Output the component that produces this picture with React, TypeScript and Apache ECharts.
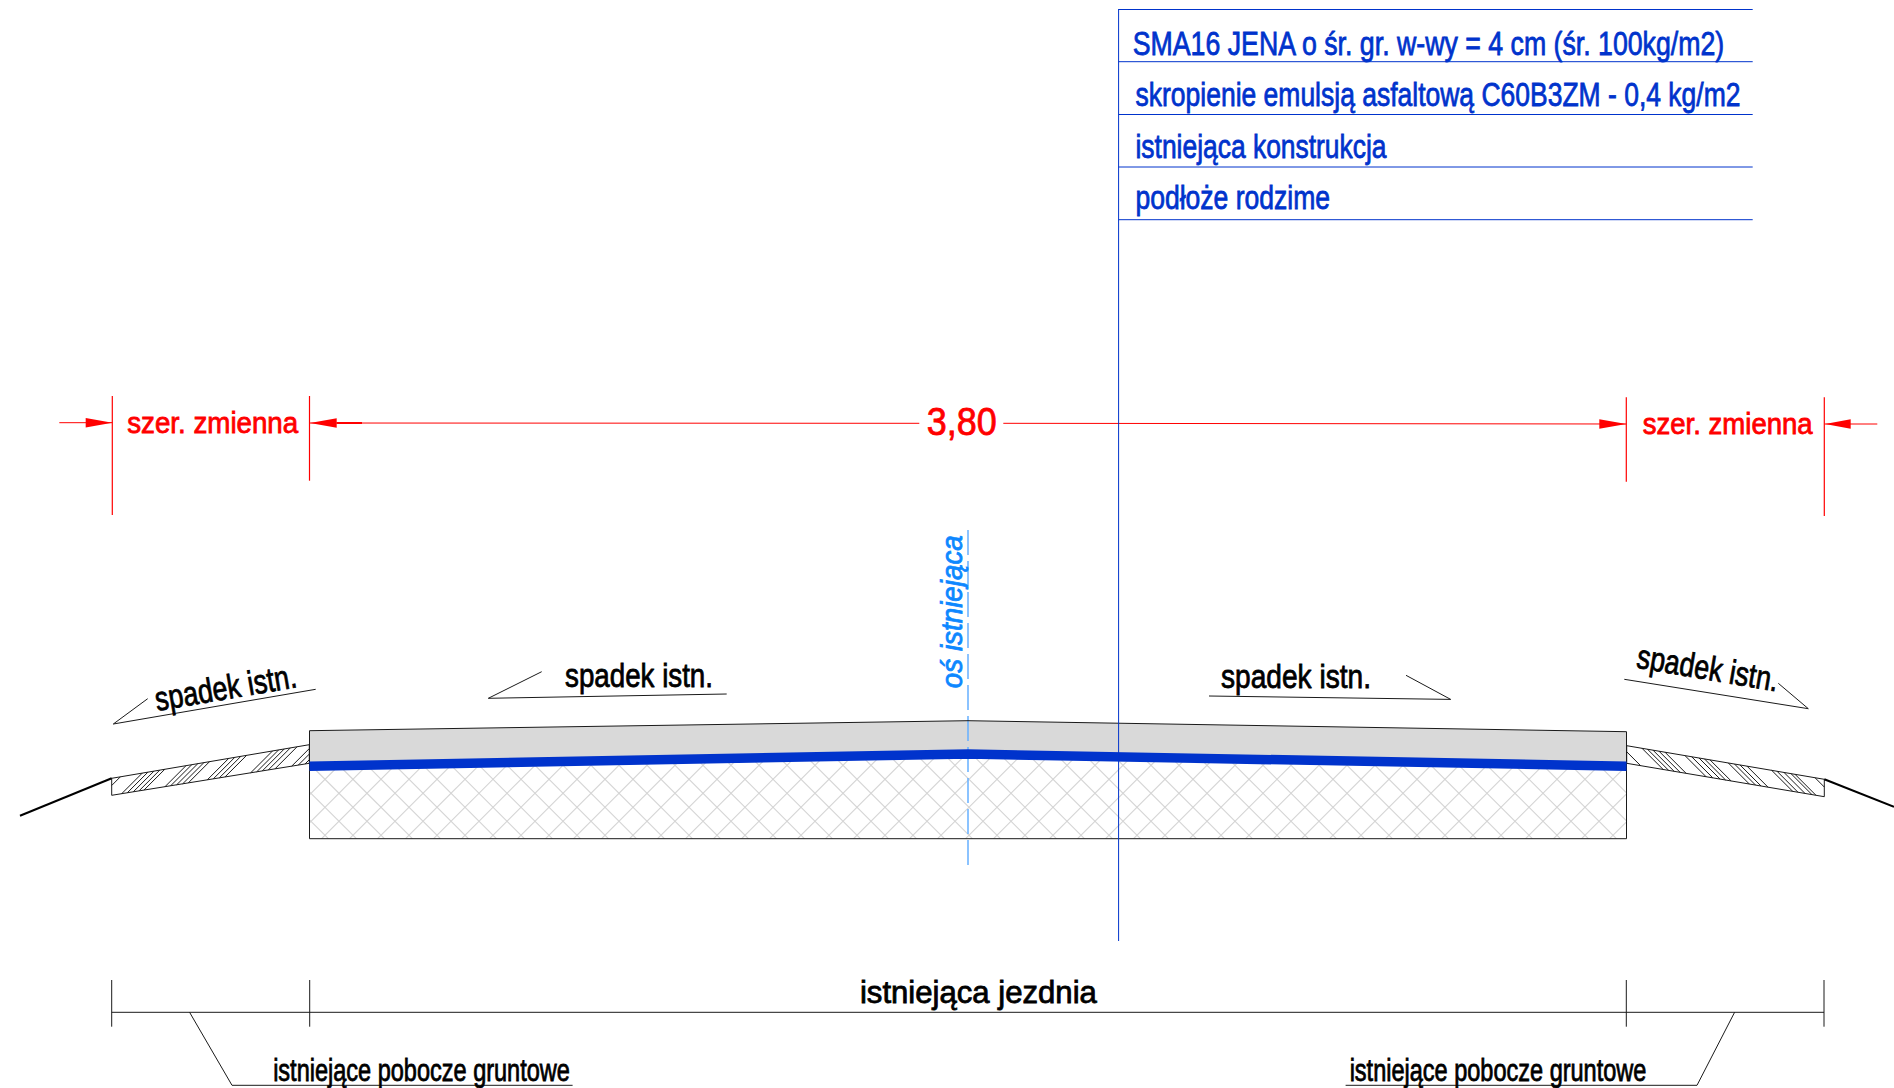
import React, { useEffect, useRef } from "react";
import * as echarts from "echarts";

type Pt = number[];

// ---- Cross-section geometry, in drawing units ----
const roadTopProfile: Pt[] = [[309.5, 730.7], [968, 720.7], [1626.5, 731.7]];
const sealLayerProfile: Pt[] = [[309.5, 766.3], [968, 754], [1626.5, 766.2]];
const roadBaseCorners: Pt[] = [[309.5, 730.7], [309.5, 838.7], [1626.5, 838.7], [1626.5, 731.7]];
const substrateBottom: Pt[] = [[309.5, 838.7], [1626.5, 838.7]];

const leftShoulder: Pt[] = [[111.7, 778.3], [309.3, 744.7], [309.3, 763.3], [111.7, 795.3]];
const rightShoulder: Pt[] = [[1626.7, 745.7], [1824.3, 779.3], [1824.3, 796.7], [1626.7, 763.3]];
const leftEmbankment: Pt[] = [[20, 815.7], [111.7, 778.3]];
const rightEmbankment: Pt[] = [[1824.3, 779.3], [1894, 806.7]];

const leftHatchStarts = [100, 121.7, 127.3, 133.3, 139, 144, 165, 170.7, 176.7, 182.7, 188.3, 207.3, 213.3, 219.3, 225, 250.7, 256.7, 262.3, 268.3, 275, 291.7, 298.3, 305];
const rightHatchStarts = [1619.4, 1642, 1647.5, 1653, 1659, 1665, 1685, 1691.7, 1699, 1704.5, 1710, 1728.3, 1734.5, 1740, 1747, 1771.7, 1777, 1784, 1791, 1795, 1815];

// ---- Dimension lines (red) ----
const dimLeftStub: Pt[] = [[59.3, 422.7], [112.3, 422.7]];
const dimMainLeft: Pt[] = [[309.5, 423], [919.3, 423.3]];
const dimMainLeftHeavy: Pt[] = [[336.7, 423], [362, 423]];
const dimMainRight: Pt[] = [[1003.3, 423.3], [1626.3, 424]];
const dimRightStub: Pt[] = [[1824.5, 424], [1877.3, 424]];
const dimTicks: Pt[][] = [
  [[112.3, 396], [112.3, 515]],
  [[309.5, 396], [309.5, 480.7]],
  [[1626.3, 397.3], [1626.3, 481.7]],
  [[1824.3, 397.3], [1824.3, 516]],
];
const dimArrows: Pt[][] = [
  [[112.3, 422.7], [85.7, 418], [85.7, 427.4]],
  [[310, 423], [336.7, 418.3], [336.7, 427.7]],
  [[1626.3, 424], [1599.3, 419.2], [1599.3, 428.8]],
  [[1825, 424], [1850.7, 419.2], [1850.7, 428.8]],
];

// ---- Layer table and axis (blue) ----
const tableVertical: Pt[] = [[1118.6, 9], [1118.6, 941]];
const tableRuleY = [9.5, 61.7, 114.5, 167, 219.7];
const tableRuleX = [1118.6, 1752.7];
const existingAxis: Pt[] = [[968, 530], [968, 866.7]];

// ---- Slope leaders and bottom annotations (black) ----
const leaders: Pt[][] = [
  [[147.7, 698.7], [113.3, 724], [315.7, 689.3]],
  [[541.7, 671.7], [488.3, 698.3], [726.7, 694]],
  [[1209, 696], [1450.7, 699.4], [1406, 675.3]],
  [[1624.3, 679.3], [1808.3, 708.7], [1778.3, 683.3]],
  [[189.6, 1012.3], [232, 1085.3], [572.6, 1085.3]],
  [[1734.6, 1012.3], [1697, 1085.3], [1345.6, 1085.3]],
];
const bottomDimension: Pt[] = [[111.7, 1012.3], [1824, 1012.3]];
const bottomTicksX = [111.7, 309.7, 1626.3, 1824];
const bottomTickY = [980, 1026.7];

// ---- Labels ----
const tableLabels = [
  "SMA16 JENA o śr. gr. w-wy = 4 cm (śr. 100kg/m2)",
  "skropienie emulsją asfaltową C60B3ZM - 0,4 kg/m2",
  "istniejąca konstrukcja",
  "podłoże rodzime",
];
const widthLabel = "szer. zmienna";
const dimensionLabel = "3,80";
const slopeLabel = "spadek istn.";
const axisLabel = "oś istniejąca";
const carriagewayLabel = "istniejąca jezdnia";
const shoulderLabel = "istniejące pobocze gruntowe";

const BLUE = "#0033cc";
const RED = "#ff0000";
const INK = "#1a1a1a";
const SKY = "#66b0ff";
const GREY = "#d9d9d9";
const HATCH_GREY = "#d4d4d4";
const PI = Math.PI;

function lineSeries(points: Pt[], color: string, width: number, z: number, extra: any = {}) {
  return {
    type: "line",
    data: points,
    symbol: "none",
    silent: true,
    clip: false,
    z,
    lineStyle: { color, width, cap: "butt", join: "miter", ...extra },
  };
}

function polygonSeries(pointsList: Pt[][], fill: string, stroke: string | null, width: number, z: number) {
  return {
    type: "custom",
    silent: true,
    clip: false,
    z,
    data: [[0, 0]],
    renderItem: (_p: any, api: any) => ({
      type: "group",
      children: pointsList.map((pts) => ({
        type: "polygon",
        shape: { points: pts.map((q) => api.coord(q)) },
        style: { fill, stroke: stroke || "none", lineWidth: width },
      })),
    }),
  };
}

function clipToConvex(p: Pt, d: Pt, poly: Pt[]): Pt[] | null {
  const ts: number[] = [];
  for (let i = 0; i < poly.length; i++) {
    const a = poly[i];
    const b = poly[(i + 1) % poly.length];
    const ex = b[0] - a[0];
    const ey = b[1] - a[1];
    const den = d[0] * ey - d[1] * ex;
    if (Math.abs(den) < 1e-9) continue;
    const t = ((a[0] - p[0]) * ey - (a[1] - p[1]) * ex) / den;
    const s = ((a[0] - p[0]) * d[1] - (a[1] - p[1]) * d[0]) / den;
    if (s >= -1e-9 && s <= 1 + 1e-9) ts.push(t);
  }
  if (ts.length < 2) return null;
  const t0 = Math.min(...ts);
  const t1 = Math.max(...ts);
  if (t1 - t0 < 1e-6) return null;
  return [[p[0] + d[0] * t0, p[1] + d[1] * t0], [p[0] + d[0] * t1, p[1] + d[1] * t1]];
}

function segmentsSeries(segments: Pt[][], color: string, width: number, z: number) {
  return {
    type: "custom",
    silent: true,
    clip: false,
    z,
    data: [[0, 0]],
    renderItem: (_p: any, api: any) => ({
      type: "group",
      children: segments.map((seg) => {
        const a = api.coord(seg[0]);
        const b = api.coord(seg[1]);
        return {
          type: "line",
          shape: { x1: a[0], y1: a[1], x2: b[0], y2: b[1] },
          style: { stroke: color, lineWidth: width },
        };
      }),
    }),
  };
}

function onEdge(a: Pt, b: Pt, x: number): Pt {
  return [x, a[1] + ((b[1] - a[1]) * (x - a[0])) / (b[0] - a[0])];
}

function shoulderHatch(starts: number[], poly: Pt[], ea: Pt, eb: Pt, dir: Pt): Pt[][] {
  const out: Pt[][] = [];
  starts.forEach((x) => {
    const seg = clipToConvex(onEdge(ea, eb, x), dir, poly);
    if (seg) out.push(seg);
  });
  return out;
}

const substratePolygon: Pt[] = [...sealLayerProfile, ...[...substrateBottom].reverse()];

function crossHatch(poly: Pt[], period: number, sumPhase: number, diffPhase: number): Pt[][] {
  const out: Pt[][] = [];
  for (let k = -60; k < 100; k++) {
    const a = clipToConvex([sumPhase + k * period, 0], [1, -1], poly);
    if (a) out.push(a);
    const b = clipToConvex([diffPhase + k * period, 0], [1, 1], poly);
    if (b) out.push(b);
  }
  return out;
}

function fit(text: string, font: number, width: number, italic = false) {
  const ctx = document.createElement("canvas").getContext("2d")!;
  ctx.font = `${italic ? "italic " : ""}${font}px "Liberation Sans"`;
  return width / ctx.measureText(text).width;
}

function label(text: string, x: number, y: number, font: number, width: number, fill: string, rotation = 0, italic = false) {
  return {
    type: "text",
    x,
    y,
    rotation,
    scaleX: fit(text, font, width, italic),
    silent: true,
    z: 20,
    style: {
      text,
      fill,
      stroke: fill,
      lineWidth: 0.8,
      font: `${italic ? "italic " : ""}${font}px "Liberation Sans"`,
      align: "center",
      verticalAlign: "middle",
    },
  };
}

export default function App() {
  const ref = useRef<HTMLDivElement>(null);
  useEffect(() => {
    document.body.style.margin = "0";
    document.body.style.overflow = "hidden";
    const chart = echarts.init(ref.current!, undefined, { renderer: "svg" });

    const roadFill: Pt[] = [...roadTopProfile, ...[...sealLayerProfile].reverse()];
    const series: any[] = [
      segmentsSeries(crossHatch(substratePolygon, 28, 1104.3, -454.3), HATCH_GREY, 1.1, 1),
      polygonSeries([roadFill], GREY, null, 0, 2),
      lineSeries(existingAxis, SKY, 1.5, 3, { type: [25, 6] }),
      lineSeries(roadBaseCorners, INK, 1, 4),
      lineSeries(roadTopProfile, INK, 1, 4),
      lineSeries(sealLayerProfile, BLUE, 9.5, 5),
      polygonSeries([leftShoulder, rightShoulder], "#ffffff", INK, 1, 3),
      segmentsSeries(shoulderHatch(leftHatchStarts, leftShoulder, leftShoulder[3], leftShoulder[2], [1, -1]), INK, 1, 4),
      segmentsSeries(shoulderHatch(rightHatchStarts, rightShoulder, rightShoulder[0], rightShoulder[1], [1, 1]), INK, 1, 4),
      lineSeries(leftEmbankment, "#000000", 2, 4),
      lineSeries(rightEmbankment, "#000000", 2, 4),
      lineSeries(dimLeftStub, RED, 1, 6),
      lineSeries(dimMainLeft, RED, 1, 6),
      lineSeries(dimMainLeftHeavy, RED, 2, 6),
      lineSeries(dimMainRight, RED, 1, 6),
      lineSeries(dimRightStub, RED, 1, 6),
      ...dimTicks.map((t) => lineSeries(t, RED, 1.2, 6)),
      polygonSeries(dimArrows, RED, null, 0, 6),
      lineSeries(tableVertical, BLUE, 1, 7),
      ...tableRuleY.map((y) => lineSeries(tableRuleX.map((x) => [x, y]), BLUE, 1, 7)),
      ...leaders.map((l) => lineSeries(l, INK, 1, 6)),
      lineSeries(bottomDimension, INK, 1, 6),
      ...bottomTicksX.map((x) => lineSeries(bottomTickY.map((y) => [x, y]), INK, 1, 6)),
    ];

    const toRad = PI / 180;
    const graphicElements: any[] = [
      label(tableLabels[0], 1428.5, 43, 34, 593, BLUE),
      label(tableLabels[1], 1438, 94, 34, 605, BLUE),
      label(tableLabels[2], 1261, 146, 34, 251, BLUE),
      label(tableLabels[3], 1232.7, 197, 34, 194.5, BLUE),
      label(widthLabel, 212.7, 423, 29, 171, RED),
      label(dimensionLabel, 961.7, 422.5, 38, 70, RED),
      label(widthLabel, 1727.7, 424, 29, 170, RED),
      label(axisLabel, 952, 611.7, 30, 153, "#0d87ff", PI / 2, true),
      label(slopeLabel, 225.5, 687, 34, 143, "#000000", 9.7 * toRad),
      label(slopeLabel, 639, 675, 34, 148, "#000000"),
      label(slopeLabel, 1296, 676.5, 34, 150, "#000000"),
      label(slopeLabel, 1708, 667.5, 34, 143, "#000000", -9.7 * toRad),
      label(carriagewayLabel, 978.4, 993, 31, 237, "#000000"),
      label(shoulderLabel, 421.5, 1070, 31, 297, "#000000"),
      label(shoulderLabel, 1498, 1070, 31, 297, "#000000"),
    ];

    chart.setOption({
      animation: false,
      backgroundColor: "#ffffff",
      grid: { left: 0, right: 0, top: 0, bottom: 0 },
      xAxis: { type: "value", min: 0, max: 1894, show: false },
      yAxis: { type: "value", min: 0, max: 1088, inverse: true, show: false },
      series,
      graphic: { elements: graphicElements },
    });
    return () => chart.dispose();
  }, []);
  return <div ref={ref} style={{ width: 1894, height: 1088 }} />;
}
